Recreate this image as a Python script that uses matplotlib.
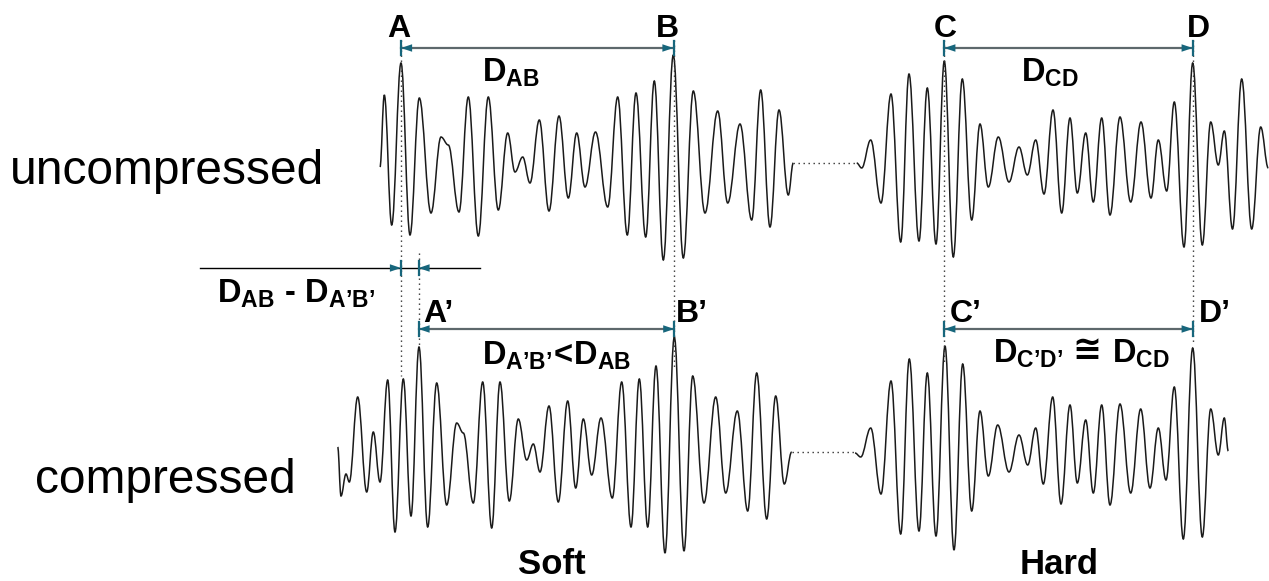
import numpy as np
import matplotlib
matplotlib.use("Agg")
import matplotlib.pyplot as plt
from matplotlib.path import Path
from matplotlib.patches import PathPatch

plt.rcParams['font.family'] = ['Liberation Sans', 'DejaVu Sans']
plt.rcParams['mathtext.fontset'] = 'custom'
plt.rcParams['mathtext.rm'] = 'Liberation Sans:bold'
plt.rcParams['mathtext.it'] = 'Liberation Sans:bold'
plt.rcParams['mathtext.bf'] = 'Liberation Sans:bold'
plt.rcParams['mathtext.sf'] = 'Liberation Sans:bold'

# extrema of the traces: time (px) and amplitude (px, up positive)
soft_unc_t = [380, 384.3, 391.7, 401, 410, 419.3, 431, 441, 448.3, 459, 468.3, 478.3, 488.3,
              498.3, 507.7, 515, 522.7, 530, 539.3, 549, 559, 568.3, 576.7, 585, 595.5, 607.7,
              617.7, 627.3, 636, 645.7, 654.3, 663.3, 673.3, 683.3, 693.3, 705, 717.7, 727.7,
              740, 751.7, 760.7, 770, 779, 788.3, 793.3]
soft_unc_a = [-2, 70, -60, 102, -70, 67, -48, 28, 20, -47, 68, -71, 68,
              -45, 32, -7, 8, -18, 45, -46, 49, -33, 32, -22, 33, -42,
              68, -70, 72, -72, 84, -95, 110, -93, 74, -48, 54, -38,
              41, -55, 75, -62, 55, -30, 2]

hard_unc_t = [856.7, 861.7, 870.7, 881, 891, 900.7, 909, 919, 927.3, 936, 944.3, 953.3, 962.3,
              971.7, 980, 988.3, 998.3, 1009, 1019, 1027.3, 1035.7, 1044, 1053, 1061.7, 1070,
              1077.3, 1085.7, 1093.3, 1101.7, 1110, 1120, 1130.7, 1141, 1151, 1158.3, 1166.7,
              1174.3, 1184, 1192.7, 1202.3, 1210.7, 1218.3, 1224.3, 1232.5, 1241.7, 1251.7,
              1260.7, 1268.3]
hard_unc_a = [2, -3, 25, -38, 71, -77, 91, -76, 77, -79, 104, -92, 86,
              -55, 41, -22, 28, -17, 18, -10, 25, -29, 55, -48, 47,
              -28, 32, -37, 47, -50, 48, -37, 43, -33, 25, -26,
              63, -82, 102, -80, 43, 0, 34, -64, 86, -64,
              38, -3]

soft_cmp_t = [337.7, 341, 346, 349.3, 357.7, 366.7, 373.3, 380, 387.7, 395, 403.3, 411, 419,
              427.7, 436.7, 446.7, 456.7, 463.3, 473.3, 482.7, 491.7, 500, 509.3, 518.3, 526.7,
              533.3, 540, 549, 558.3, 567.7, 575.7, 583.3, 591.7, 601, 612.3, 621.7, 631,
              639.3, 647.7, 656, 665, 674.3, 684, 692.7, 704, 715.7, 725.7, 737.3, 747.7,
              756.7, 766.7, 775.7, 784.3, 791.7]
soft_cmp_a = [5, -44, -22, -30, 55, -40, 20, -30, 72, -80, 73, -64, 105,
              -75, 69, -53, 29, 19, -51, 70, -76, 70, -49, 33, -8,
              8, -20, 46, -50, 51, -36, 33, -23, 34, -46, 70, -75,
              73, -75, 86, -101, 115, -99, 76, -51, 55, -41, 41, -59,
              79, -67, 56, -32, 0]

hard_cmp_t = [855, 860.7, 870.7, 881, 891, 900.7, 909.3, 919, 927.3, 936, 945, 954, 962.7,
              971.7, 980, 988.3, 997.7, 1009, 1019, 1027.7, 1035.7, 1043.3, 1052.7, 1061, 1070,
              1077.3, 1085.7, 1093.3, 1101.7, 1110, 1120, 1130.7, 1140.7, 1150, 1158.3, 1166,
              1174.3, 1183.3, 1192.7, 1202.3, 1210.7, 1218.3, 1224.3, 1228.3]
hard_cmp_a = [-1, -5, 24, -42, 71, -82, 93, -79, 79, -84, 106, -98, 88,
              -59, 41, -24, 27, -20, 17, -13, 24, -32, 55, -52, 47,
              -31, 32, -41, 47, -53, 48, -41, 43, -36, 24, -28,
              65, -87, 104, -85, 43, -3, 34, 1]

# marker times
t_A, t_B, t_C, t_D = 401, 673.5, 944.3, 1192.7
t_A2, t_B2 = 418.5, 674.3

W, H = 1269, 581
fig = plt.figure(figsize=(W / 100, H / 100), dpi=100)
ax = fig.add_axes([0, 0, 1, 1])
ax.set_xlim(0, W)
ax.set_ylim(H, 0)
ax.axis('off')

base_up, base_lo = 165, 452
teal = '#17667c'
gray = '#5d686c'


def wave(t, a, base, k=0.38):
    ys = [base - v for v in a]
    verts = [(t[0], ys[0])]
    codes = [Path.MOVETO]
    for i in range(len(t) - 1):
        dx = t[i + 1] - t[i]
        verts += [(t[i] + k * dx, ys[i]), (t[i + 1] - k * dx, ys[i + 1]), (t[i + 1], ys[i + 1])]
        codes += [Path.CURVE4] * 3
    ax.add_patch(PathPatch(Path(verts, codes), fill=False, lw=1.1, ec='#1a1a1a'))


wave(soft_unc_t, soft_unc_a, base_up)
wave(hard_unc_t, hard_unc_a, base_up)
wave(soft_cmp_t, soft_cmp_a, base_lo)
wave(hard_cmp_t, hard_cmp_a, base_lo)

dots = dict(color='#333333', lw=1.0, ls=(0, (1, 2.6)))
# gaps between the two parts of each trace
ax.plot([soft_unc_t[-1], hard_unc_t[0]], [base_up - 2, base_up - 2], **dots)
ax.plot([soft_cmp_t[-1], hard_cmp_t[0]], [base_lo, base_lo], **dots)

# vertical marker lines
ax.plot([t_A, t_A], [40, 376], **dots)
ax.plot([t_B, t_B], [40, 368], **dots)
ax.plot([t_C, t_C], [40, 362], **dots)
ax.plot([t_D, t_D], [40, 345], **dots)
ax.plot([t_A2, t_A2], [253, 347], **dots)


def head(x, y, direction):
    ax.annotate('', xy=(x, y), xytext=(x + direction * 12, y),
                arrowprops=dict(arrowstyle='-|>,head_length=0.8,head_width=0.27',
                                color=teal, lw=0, shrinkA=0, shrinkB=0, mutation_scale=10))
    ax.plot([x, x], [y - 7, y + 7], color=teal, lw=1.6)


def span(x0, x1, y):
    ax.plot([x0, x1], [y, y], color=gray, lw=1.6)
    head(x0, y, 1)
    head(x1, y, -1)


span(t_A, t_B, 48)
span(t_C, t_D, 48)
span(t_A2, t_B2, 329)
span(t_C, t_D, 329)

# difference marker
ax.plot([200, 480], [268, 268], color='black', lw=1.0)
head(t_A, 268, -1)
head(t_A2, 268, 1)

lab = dict(fontsize=23, fontweight='bold', ha='center', va='baseline')
ax.text(399, 37, 'A', **lab)
ax.text(667, 37, 'B', **lab)
ax.text(945, 37, 'C', **lab)
ax.text(1198, 37, 'D', **lab)
ax.text(438, 322, 'A’', **lab)
ax.text(692, 322, 'B’', **lab)
ax.text(966, 322, 'C’', **lab)
ax.text(1215, 322, 'D’', **lab)

dl = dict(fontsize=23.5, ha='left', va='baseline')
ax.text(482, 82, r'$\mathrm{D_{AB}}$', **dl)
ax.text(1021, 82, r'$\mathrm{D_{CD}}$', **dl)
ax.text(217, 303, r'$\mathrm{D_{AB}\ \text{-}\ D_{A’B’}}$', **dl)
ax.text(482, 365, r'$\mathrm{D_{A’B’}\!<\!D_{AB}}$', **dl)
ax.text(993, 363, r'$\mathrm{D_{C’D’}}$', **dl)
ax.text(1087, 360, '≅', fontsize=25, fontweight='bold', family='DejaVu Sans',
        ha='center', va='baseline')
ax.text(1112, 363, r'$\mathrm{D_{CD}}$', **dl)

ax.text(10, 184, 'uncompressed', fontsize=34.5, ha='left', va='baseline')
ax.text(35, 493, 'compressed', fontsize=34.5, ha='left', va='baseline')
ax.text(552, 574, 'Soft', fontsize=25, fontweight='bold', ha='center', va='baseline')
ax.text(1059, 574, 'Hard', fontsize=25, fontweight='bold', ha='center', va='baseline')

fig.savefig('out.png', dpi=100)
